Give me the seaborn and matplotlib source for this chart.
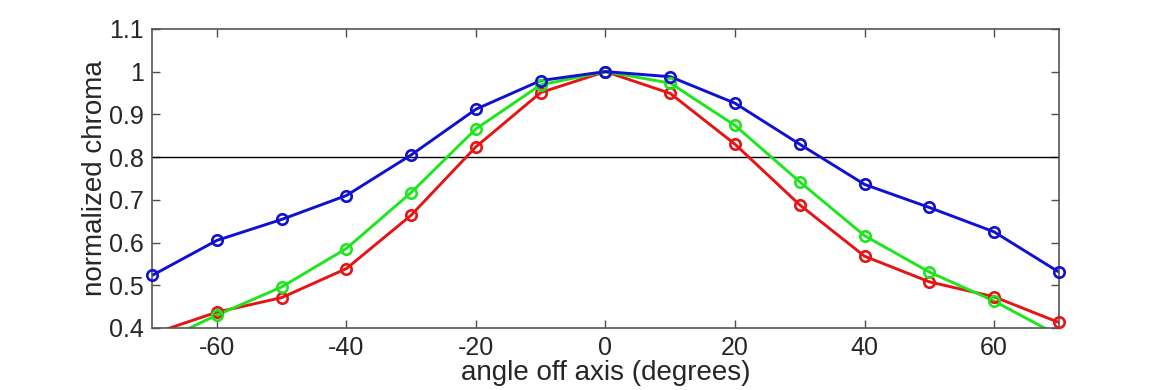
import numpy as np
import pandas as pd
import seaborn as sns
import matplotlib.pyplot as plt

# Chroma vs viewing angle
angles = [-70, -60, -50, -40, -30, -20, -10, 0, 10, 20, 30, 40, 50, 60, 70]
red = [0.386, 0.437, 0.471, 0.539, 0.664, 0.824, 0.951, 1.0, 0.949, 0.830, 0.688, 0.568, 0.508, 0.473, 0.413]
green = [0.359, 0.430, 0.496, 0.586, 0.717, 0.866, 0.969, 1.0, 0.973, 0.874, 0.742, 0.616, 0.531, 0.463, 0.382]
blue = [0.523, 0.605, 0.654, 0.710, 0.805, 0.912, 0.979, 1.0, 0.988, 0.926, 0.830, 0.736, 0.682, 0.625, 0.531]
threshold = 0.8

x_ticks = [-60, -40, -20, 0, 20, 40, 60]
y_ticks = [0.4, 0.5, 0.6, 0.7, 0.8, 0.9, 1.0, 1.1]
y_labels = ['0.4', '0.5', '0.6', '0.7', '0.8', '0.9', '1', '1.1']
y_min, y_max = 0.4, 1.1

sns.set_style("white")
plt.rcParams['font.family'] = ['Liberation Sans', 'DejaVu Sans']
plt.rcParams['axes.unicode_minus'] = False
text_col = '#262626'

fig = plt.figure(figsize=(11.7, 3.9), dpi=100)
ax = fig.add_axes([0.130, 0.159, 0.775, 0.767])

series = [('red', red, '#e61414'), ('green', green, '#1ee61e'), ('blue', blue, '#1010d0')]
for name, vals, col in series:
    df = pd.DataFrame({'angle': angles, 'chroma': vals})
    # line is clipped to the axes, markers are not (like the original)
    sns.lineplot(data=df, x='angle', y='chroma', ax=ax, color=col, lw=2.1, zorder=2)
    inside = df[(df['chroma'] >= y_min) & (df['chroma'] <= y_max)]
    sns.lineplot(data=inside, x='angle', y='chroma', ax=ax, color=col, linestyle='none',
                 marker='o', markersize=7.5, markerfacecolor='none',
                 markeredgecolor=col, markeredgewidth=1.9, clip_on=False, zorder=3)

ax.axhline(threshold, color='black', lw=1.0, zorder=1)

ax.set_xlim(-70, 70)
ax.set_ylim(y_min, y_max)
ax.set_xticks(x_ticks)
ax.set_yticks(y_ticks)
ax.set_yticklabels(y_labels)
ax.tick_params(direction='in', length=6, width=1, colors='#4d4d4d',
               labelcolor=text_col, labelsize=18, top=True, right=True,
               bottom=True, left=True, pad=6)
for s in ax.spines.values():
    s.set_color('#555555')
    s.set_linewidth(1.2)

ax.set_xlabel('angle off axis (degrees)', fontsize=20, color=text_col, labelpad=0)
ax.set_ylabel('normalized chroma', fontsize=20, color=text_col, labelpad=1)

fig.savefig('out.png', dpi=100)
